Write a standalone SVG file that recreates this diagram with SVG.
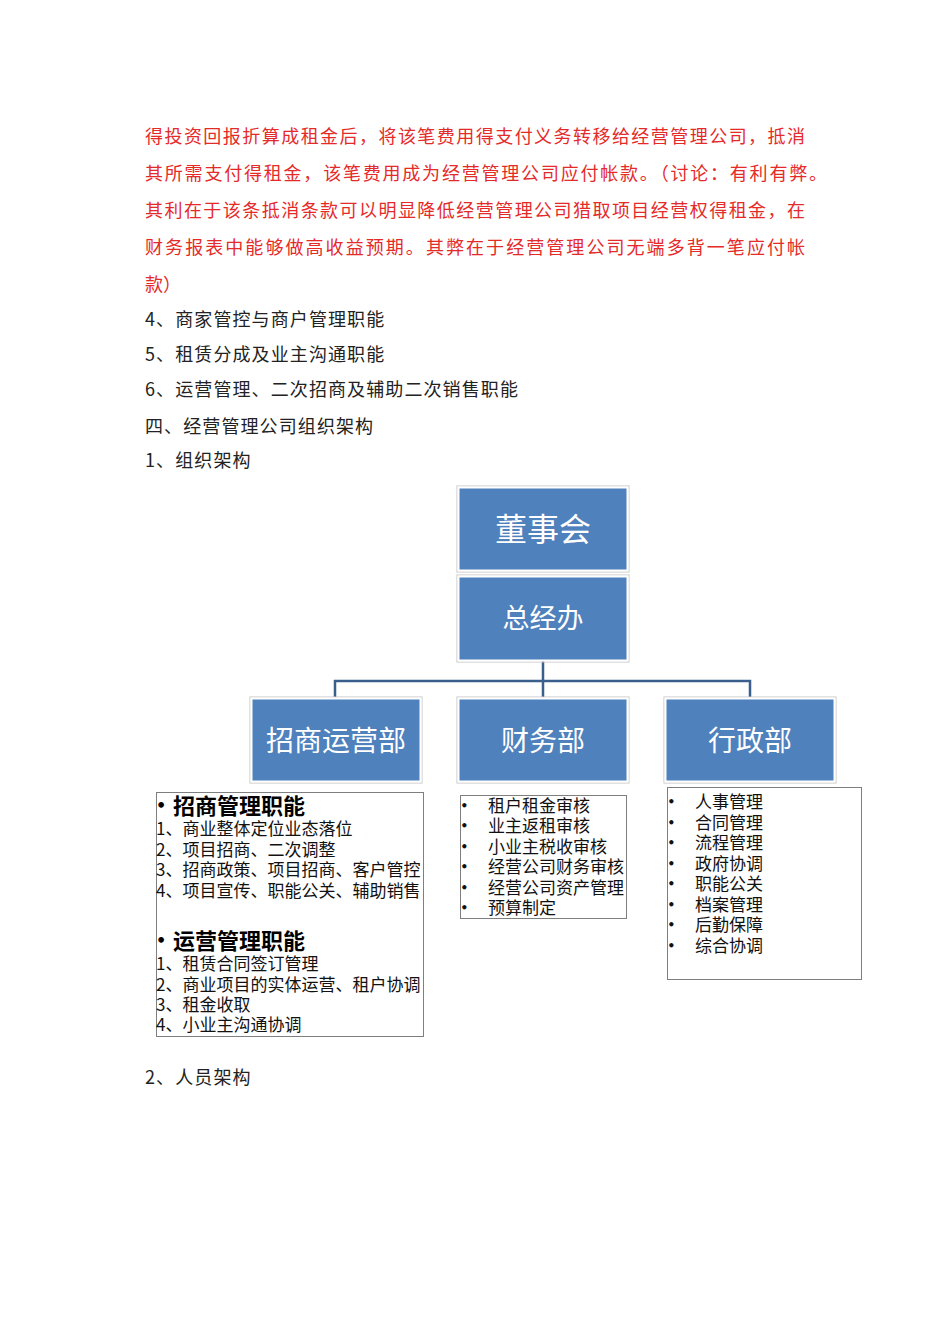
<svg xmlns="http://www.w3.org/2000/svg" width="950" height="1344" viewBox="0 0 950 1344">
<style>
.red{font-family:"Noto Sans CJK SC",sans-serif;font-size:18px;fill:#E52A2A}
.body{font-family:"Noto Sans CJK SC",sans-serif;font-size:18px;fill:#222;letter-spacing:1.1px}
.box{fill:#4F81BD;stroke:#FFFFFF;stroke-width:2}
.frame{fill:none;stroke:#C4C4C4;stroke-width:1}
.lbl{font-family:"Noto Sans CJK SC",sans-serif;fill:#FFFFFF;text-anchor:middle;dominant-baseline:central}
.note{fill:#FFFFFF;stroke:#7F7F7F;stroke-width:1}
.li{font-family:"Noto Sans CJK SC",sans-serif;font-size:17px;fill:#111}
.bu{font-family:"DejaVu Sans",sans-serif;font-size:12px;font-weight:bold;fill:#111}
.bh{font-family:"DejaVu Sans",sans-serif;font-size:16px;font-weight:bold;fill:#000}
.hd{font-family:"Noto Sans CJK SC",sans-serif;font-size:22px;font-weight:bold;fill:#000}
.conn{fill:none;stroke:#3B5F8C;stroke-width:2.5}
</style>
<rect width="950" height="1344" fill="#FFFFFF"/>
<g id="paragraph">
<text class="red" x="145" y="143" textLength="660" lengthAdjust="spacing">得投资回报折算成租金后，将该笔费用得支付义务转移给经营管理公司，抵消</text>
<text class="red" x="145" y="180" textLength="682" lengthAdjust="spacing">其所需支付得租金，该笔费用成为经营管理公司应付帐款。（讨论：有利有弊。</text>
<text class="red" x="145" y="217" textLength="660" lengthAdjust="spacing">其利在于该条抵消条款可以明显降低经营管理公司猎取项目经营权得租金，在</text>
<text class="red" x="145" y="254" textLength="660" lengthAdjust="spacing">财务报表中能够做高收益预期。其弊在于经营管理公司无端多背一笔应付帐</text>
<text class="red" x="145" y="291">款）</text>
<text class="body" x="145" y="326">4、商家管控与商户管理职能</text>
<text class="body" x="145" y="361">5、租赁分成及业主沟通职能</text>
<text class="body" x="145" y="396">6、运营管理、二次招商及辅助二次销售职能</text>
<text class="body" x="145" y="433">四、经营管理公司组织架构</text>
<text class="body" x="145" y="467">1、组织架构</text>
<text class="body" x="145" y="1084">2、人员架构</text>
</g>
<g id="connectors">
<path class="conn" d="M543 661 V697 M335 697 V681 H750 V697"/>
</g>
<g id="node-board">
<rect class="frame" x="457" y="486" width="172" height="86"/>
<rect class="box" x="458.5" y="487.5" width="169" height="83"/>
<text class="lbl" x="543" y="527" font-size="32">董事会</text>
</g>
<g id="node-gm">
<rect class="frame" x="457" y="575" width="172" height="87"/>
<rect class="box" x="458.5" y="576.5" width="169" height="84"/>
<text class="lbl" x="543" y="616" font-size="27">总经办</text>
</g>
<g id="node-invest">
<rect class="frame" x="250" y="697" width="172" height="86"/>
<rect class="box" x="251.5" y="698.5" width="169" height="83"/>
<text class="lbl" x="336" y="739" font-size="28">招商运营部</text>
</g>
<g id="node-finance">
<rect class="frame" x="457" y="697" width="172" height="86"/>
<rect class="box" x="458.5" y="698.5" width="169" height="83"/>
<text class="lbl" x="543" y="739" font-size="28">财务部</text>
</g>
<g id="node-admin">
<rect class="frame" x="664" y="697" width="172" height="86"/>
<rect class="box" x="665.5" y="698.5" width="169" height="83"/>
<text class="lbl" x="750" y="739" font-size="28">行政部</text>
</g>
<g id="note-invest">
<rect class="note" x="156.5" y="792.5" width="267" height="244"/>
<text class="bh" x="156" y="811">•</text>
<text class="hd" x="173" y="814">招商管理职能</text>
<text class="li" x="156" y="835">1、商业整体定位业态落位</text>
<text class="li" x="156" y="856">2、项目招商、二次调整</text>
<text class="li" x="156" y="876">3、招商政策、项目招商、客户管控</text>
<text class="li" x="156" y="897">4、项目宣传、职能公关、辅助销售</text>
<text class="bh" x="156" y="946">•</text>
<text class="hd" x="173" y="949">运营管理职能</text>
<text class="li" x="156" y="970">1、租赁合同签订管理</text>
<text class="li" x="156" y="991">2、商业项目的实体运营、租户协调</text>
<text class="li" x="156" y="1011">3、租金收取</text>
<text class="li" x="156" y="1031">4、小业主沟通协调</text>
</g>
<g id="note-finance">
<rect class="note" x="460.5" y="795.5" width="166" height="123"/>
<text class="bu" x="460.5" y="810">•</text><text class="li" x="488" y="812">租户租金审核</text>
<text class="bu" x="460.5" y="830">•</text><text class="li" x="488" y="832">业主返租审核</text>
<text class="bu" x="460.5" y="851">•</text><text class="li" x="488" y="853">小业主税收审核</text>
<text class="bu" x="460.5" y="871">•</text><text class="li" x="488" y="873">经营公司财务审核</text>
<text class="bu" x="460.5" y="892">•</text><text class="li" x="488" y="894">经营公司资产管理</text>
<text class="bu" x="460.5" y="912">•</text><text class="li" x="488" y="914">预算制定</text>
</g>
<g id="note-admin">
<rect class="note" x="667.5" y="787.5" width="194" height="192"/>
<text class="bu" x="667.5" y="806">•</text><text class="li" x="695" y="808">人事管理</text>
<text class="bu" x="667.5" y="827">•</text><text class="li" x="695" y="829">合同管理</text>
<text class="bu" x="667.5" y="847">•</text><text class="li" x="695" y="849">流程管理</text>
<text class="bu" x="667.5" y="868">•</text><text class="li" x="695" y="870">政府协调</text>
<text class="bu" x="667.5" y="888">•</text><text class="li" x="695" y="890">职能公关</text>
<text class="bu" x="667.5" y="909">•</text><text class="li" x="695" y="911">档案管理</text>
<text class="bu" x="667.5" y="929">•</text><text class="li" x="695" y="931">后勤保障</text>
<text class="bu" x="667.5" y="950">•</text><text class="li" x="695" y="952">综合协调</text>
</g>
</svg>
